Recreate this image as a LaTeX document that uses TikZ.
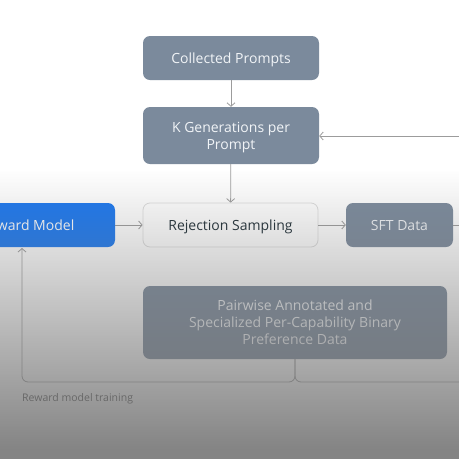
\documentclass[tikz,border=0pt]{standalone}
\usepackage{fontspec}
\setmainfont{Open Sans}
\usetikzlibrary{arrows.meta,fadings}
\definecolor{slate}{HTML}{7B8A9C}
\definecolor{metablue}{HTML}{1A77F0}
\definecolor{boxtext}{HTML}{F1F4F7}
\definecolor{darktext}{HTML}{1C2B33}
\definecolor{linegray}{HTML}{9C9C9C}
\definecolor{rsborder}{HTML}{DCDCDC}
\definecolor{overlaycol}{HTML}{737373}
\tikzfading[name=fadedown, top color=transparent!100, bottom color=transparent!12]
\begin{document}
\begin{tikzpicture}[x=1pt,y=-1pt,
  font=\fontsize{14}{17}\selectfont,
  box/.style={rounded corners=7pt, inner sep=0pt, align=center, minimum height=44pt, text depth=0pt},
  slatebox/.style={box, fill=slate, text=boxtext},
  conn/.style={draw=linegray, line width=0.8pt, -{Straight Barb[length=3.5pt,width=8pt]}},
  plain/.style={draw=linegray, line width=0.8pt}]
\useasboundingbox (0,0) rectangle (459,459);
\clip (0,0) rectangle (459,459);
\fill[white] (0,0) rectangle (459,459);

\node[slatebox, minimum width=176pt] (cp) at (231,58) {Collected Prompts};
\node[slatebox, minimum width=176pt, minimum height=57pt] (kg) at (231,135.5) {K Generations per\\Prompt};
\node[box, fill=metablue, text=white, minimum width=175pt] (rm) at (27.5,225) {Reward Model};
\node[box, fill=white, draw=rsborder, line width=0.8pt, text=darktext, minimum width=175pt] (rs) at (230.5,225) {Rejection Sampling};
\node[slatebox, minimum width=107pt] (sft) at (399.5,225) {SFT Data};
\node[slatebox, minimum width=304pt, minimum height=73pt] (pw) at (295,322.5) {Pairwise Annotated and\\Specialized Per-Capability Binary\\Preference Data};

\coordinate (kgin) at (470,136);
\coordinate (sftout) at (470,225);
\coordinate (bj) at (295,382);
\coordinate (bl) at (22,382);
\coordinate (rmin) at (22,248);
\coordinate (br) at (470,382);

\draw[conn] (cp) -- (kg);
\draw[conn] (kg) -- (rs);
\draw[conn] (kgin) -- (kg.east |- kgin);
\draw[conn] (rm) -- (rs);
\draw[conn] (rs) -- (sft);
\draw[plain] (sft) -- (sftout);
\draw[conn, rounded corners=6pt] (pw.south) -- (bj) -- (bl) -- (rmin);
\draw[plain, rounded corners=6pt] (br) -- (bj) -- (pw.south);

\node[anchor=west, inner sep=0pt, font=\fontsize{10.5}{12}\selectfont, text=black!70] (lbl) at (22,399) {Reward model training};

\fill[overlaycol, path fading=fadedown] (-5,170) rectangle (470,450);
\fill[overlaycol, opacity=0.88] (-5,450) rectangle (470,470);
\end{tikzpicture}
\end{document}
